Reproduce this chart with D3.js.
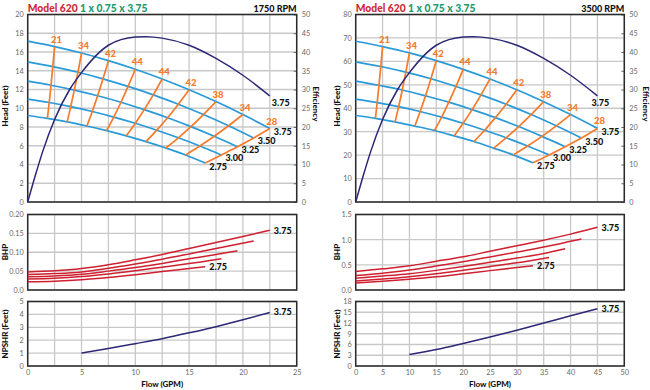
<!DOCTYPE html>
<html><head><meta charset="utf-8">
<script src="https://cdn.jsdelivr.net/npm/d3@7"></script>
<style>
body{margin:0;background:#fff;}
svg{display:block;font-family:Lato,"Open Sans",sans-serif;}
</style></head><body>
<svg id="c" width="650" height="390"></svg>
<script>
// ---------- DATA ----------
const diameters = ["3.75", "3.50", "3.25", "3.00", "2.75"];
const isoLabels = [21, 34, 42, 44, 44, 42, 38, 34, 28];
const rpmLabels = ["1750 RPM", "3500 RPM"];

// 1750 RPM head curves (flow GPM / head ft), one row per diameter
const headFlow1750 = [
  [0, 2.5, 5, 7.5, 10, 12.5, 15, 17.5, 20, 22.5],
  [0, 2.33, 4.67, 7.0, 9.33, 11.67, 14.0, 16.33, 18.67, 21.0],
  [0, 2.17, 4.33, 6.5, 8.67, 10.83, 13.0, 15.17, 17.33, 19.5],
  [0, 2, 4, 6, 8, 10, 12, 14, 16, 18],
  [0, 1.83, 3.67, 5.5, 7.33, 9.17, 11.0, 12.83, 14.67, 16.5]
];
const head1750 = [
  [17.16, 16.58, 15.89, 15.08, 14.16, 13.12, 11.97, 10.71, 9.33, 7.84],
  [14.95, 14.44, 13.84, 13.14, 12.33, 11.43, 10.43, 9.33, 8.13, 6.83],
  [12.89, 12.45, 11.94, 11.33, 10.64, 9.85, 8.99, 8.04, 7.01, 5.89],
  [10.98, 10.61, 10.17, 9.65, 9.06, 8.40, 7.66, 6.85, 5.97, 5.02],
  [9.23, 8.92, 8.55, 8.11, 7.62, 7.06, 6.44, 5.76, 5.02, 4.16]
];
// 3500 RPM head curves
const headFlow3500 = [
  [0, 5, 10, 15, 20, 25, 30, 35, 40, 45],
  [0, 4.67, 9.33, 14, 18.67, 23.33, 28, 32.67, 37.33, 42],
  [0, 4.33, 8.67, 13, 17.33, 21.67, 26, 30.33, 34.67, 39],
  [0, 4, 8, 12, 16, 20, 24, 28, 32, 36],
  [0, 3.67, 7.33, 11, 14.67, 18.33, 22, 25.67, 29.33, 33]
];
const head3500 = [
  [68.6, 66.3, 63.6, 60.3, 56.6, 52.5, 47.9, 42.8, 37.3, 31.4],
  [59.8, 57.8, 55.4, 52.6, 49.3, 45.7, 41.7, 37.3, 32.5, 27.3],
  [51.6, 49.8, 47.8, 45.3, 42.6, 39.4, 36.0, 32.2, 28.0, 23.6],
  [43.9, 42.4, 40.7, 38.6, 36.2, 33.6, 30.6, 27.4, 23.9, 20.1],
  [36.9, 35.7, 34.2, 32.4, 30.5, 28.2, 25.8, 23.0, 20.1, 16.7]
];

// Efficiency curve (3.75 impeller)
const effFlow1750 = [0, 0.7, 1.4, 2.5, 3.9, 5, 7.5, 10, 11, 12.5, 15, 17.5, 20, 22.5];
const effFlow3500 = [0, 1.4, 2.8, 5, 7.8, 10, 15, 20, 22, 25, 30, 35, 40, 45];
const effValues   = [0, 7, 13.5, 22, 30, 34.5, 41.8, 44, 44.1, 43.7, 41.8, 38.3, 33.8, 28.3];

// BHP curves
const bhpFlow1750 = [
  [0, 2.5, 5, 7.5, 10, 12.5, 15, 17.5, 20, 22.5],
  [0, 2.5, 5, 7.5, 10, 12.5, 15, 17.5, 21],
  [0, 2.5, 5, 7.5, 10, 12.5, 15, 17.5, 19.5],
  [0, 2.5, 5, 7.5, 10, 12.5, 15, 18],
  [0, 2.5, 5, 7.5, 10, 12.5, 15, 16.5]
];
const bhp1750 = [
  [0.048, 0.051, 0.057, 0.067, 0.080, 0.094, 0.110, 0.126, 0.142, 0.158],
  [0.041, 0.0435, 0.048, 0.0575, 0.069, 0.0815, 0.0955, 0.110, 0.130],
  [0.035, 0.037, 0.0415, 0.050, 0.0595, 0.0705, 0.0825, 0.094, 0.104],
  [0.029, 0.031, 0.0355, 0.0425, 0.051, 0.0605, 0.070, 0.083],
  [0.022, 0.0235, 0.027, 0.033, 0.0405, 0.049, 0.057, 0.062]
];
const bhpFlow3500 = [
  [0, 5, 10, 15, 20, 25, 30, 35, 40, 45],
  [0, 5, 10, 15, 20, 25, 30, 35, 40, 42],
  [0, 5, 10, 15, 20, 25, 30, 35, 39],
  [0, 5, 10, 15, 20, 25, 30, 36],
  [0, 5, 10, 15, 20, 25, 30, 33]
];
const bhp3500 = [
  [0.366, 0.42, 0.48, 0.57, 0.66, 0.77, 0.88, 0.99, 1.11, 1.246],
  [0.286, 0.335, 0.395, 0.475, 0.562, 0.657, 0.754, 0.854, 0.967, 1.013],
  [0.234, 0.277, 0.325, 0.39, 0.465, 0.55, 0.635, 0.725, 0.82],
  [0.18, 0.218, 0.265, 0.323, 0.392, 0.465, 0.54, 0.647],
  [0.14, 0.172, 0.213, 0.262, 0.322, 0.385, 0.445, 0.48]
];

// NPSHR (3.75)
const npshFlow1750 = [5, 7.5, 10, 12.5, 15, 17.5, 20, 22.5];
const npsh1750     = [1.0, 1.35, 1.73, 2.12, 2.57, 3.05, 3.58, 4.15];
const npshFlow3500 = [10, 15, 20, 25, 30, 35, 40, 45];
const npsh3500     = [3.2, 4.6, 6.3, 8.1, 10.0, 12.0, 14.0, 16.0];

// Ticks
const xGrid1750 = [0, 2.5, 5, 7.5, 10, 12.5, 15, 17.5, 20, 22.5, 25];
const xTicks1750 = [0, 5, 10, 15, 20, 25];
const xGrid3500 = [0, 5, 10, 15, 20, 25, 30, 35, 40, 45, 50];
const xTicks3500 = [0, 5, 10, 15, 20, 25, 30, 35, 40, 45, 50];
const headTicks1750 = [0, 2, 4, 6, 8, 10, 12, 14, 16, 18, 20];
const headTicks3500 = [0, 10, 20, 30, 40, 50, 60, 70, 80];
const effTicks = [0, 5, 10, 15, 20, 25, 30, 35, 40, 45, 50];
const bhpTicks1750 = [0, 0.05, 0.10, 0.15, 0.20];
const bhpTickLabels1750 = ["0.0", "0.05", "0.10", "0.15", "0.20"];
const bhpTicks3500 = [0, 0.5, 1.0, 1.5];
const bhpTickLabels3500 = ["0.0", "0.5", "1.0", "1.5"];
const npshTicks1750 = [0, 1, 2, 3, 4, 5];
const npshTicks3500 = [0, 3, 6, 9, 12, 15, 18];

// ---------- DRAW ----------
const C = {
  frame: "#2a2a2a", grid: "#c8c8c8", tick: "#6a6a6a",
  blue: "#2a9ad8", orange: "#f57a2a", navy: "#2b2875", red: "#cf2030",
  title: "#cf2a36", green: "#1e9a6e"
};
const svg = d3.select("#c");

function drawChart(cfg) {
  const g = svg.append("g");
  const x = d3.scaleLinear().domain([0, cfg.xMax]).range([cfg.left, cfg.right]);
  const yH = d3.scaleLinear().domain([0, cfg.headMax]).range([202, 14.5]);
  const yE = d3.scaleLinear().domain([0, 50]).range([202, 14.5]);
  const yB = d3.scaleLinear().domain([0, cfg.bhpMax]).range([290, 214.5]);
  const yN = d3.scaleLinear().domain([0, cfg.npshMax]).range([366, 301.5]);

  const panels = [
    {y: yH, ticks: cfg.headTicks, labels: null},
    {y: yB, ticks: cfg.bhpTicks, labels: cfg.bhpLabels},
    {y: yN, ticks: cfg.npshTicks, labels: null}
  ];
  panels.forEach(p => {
    const [b, t] = p.y.range();
    g.append("g").selectAll("line").data(cfg.xGrid).join("line")
      .attr("x1", d => x(d)).attr("x2", d => x(d)).attr("y1", t).attr("y2", b)
      .attr("stroke", C.grid).attr("stroke-width", 1.3);
    g.append("g").selectAll("line").data(p.ticks).join("line")
      .attr("x1", cfg.left).attr("x2", cfg.right).attr("y1", d => p.y(d)).attr("y2", d => p.y(d))
      .attr("stroke", C.grid).attr("stroke-width", 1.3);
    const ax = d3.axisLeft(p.y).tickValues(p.ticks).tickSize(0).tickPadding(4)
      .tickFormat((d, i) => p.labels ? p.labels[i] : d);
    const axg = g.append("g").attr("transform", `translate(${cfg.left},0)`).call(ax);
    axg.select(".domain").remove();
    axg.selectAll("text").attr("fill", C.tick).style("font-size", "7.3px").style("font-family", "Lato, sans-serif");
  });

  // efficiency axis (right)
  const ea = d3.axisRight(yE).tickValues(effTicks).tickSize(-3).tickPadding(5);
  const eag = g.append("g").attr("transform", `translate(${cfg.right},0)`).call(ea);
  eag.select(".domain").remove();
  eag.selectAll("line").attr("stroke", C.tick);
  eag.selectAll("text").attr("fill", C.tick).style("font-size", "7.3px").style("font-family", "Lato, sans-serif");

  // x axis (bottom)
  const xa = d3.axisBottom(x).tickValues(cfg.xTicks).tickSize(0).tickPadding(4);
  const xag = g.append("g").attr("transform", `translate(0,366)`).call(xa);
  xag.select(".domain").remove();
  xag.selectAll("text").attr("fill", C.tick).style("font-size", "7.3px").style("font-family", "Lato, sans-serif");

  // frames
  [[14.5, 202], [214.5, 290], [301.5, 366]].forEach(([t, b]) => {
    g.append("rect").attr("x", cfg.left).attr("y", t).attr("width", cfg.right - cfg.left).attr("height", b - t)
      .attr("fill", "none").attr("stroke", C.frame).attr("stroke-width", 1.5);
  });

  // head curves
  const lineH = d3.line().x(d => x(d[0])).y(d => yH(d[1])).curve(d3.curveMonotoneX);
  const headSeries = cfg.headFlow.map((fl, i) => fl.map((q, k) => [q, cfg.head[i][k]]));
  g.append("g").selectAll("path").data(headSeries).join("path")
    .attr("d", lineH).attr("fill", "none").attr("stroke", C.blue).attr("stroke-width", 1.7);

  // iso-efficiency lines
  const isoSeries = isoLabels.map((lab, k) => headSeries.map(s => s[k + 1]));
  const lineIso = d3.line().x(d => x(d[0])).y(d => yH(d[1])).curve(d3.curveCatmullRom);
  g.append("g").selectAll("path").data(isoSeries).join("path")
    .attr("d", lineIso).attr("fill", "none").attr("stroke", C.orange).attr("stroke-width", 1.7);
  g.append("g").selectAll("text").data(isoSeries).join("text")
    .attr("x", d => x(d[0][0]) + 2).attr("y", d => yH(d[0][1]) - 4)
    .attr("text-anchor", "middle").attr("fill", C.orange)
    .style("font-size", "9.5px").style("font-weight", "900")
    .text((d, k) => isoLabels[k]);

  // efficiency curve
  const lineE = d3.line().x(d => x(d[0])).y(d => yE(d[1])).curve(d3.curveMonotoneX);
  const effSeries = cfg.effFlow.map((q, i) => [q, effValues[i]]);
  g.append("path").datum(effSeries).attr("d", lineE).attr("fill", "none")
    .attr("stroke", C.navy).attr("stroke-width", 1.5);
  const eLast = effSeries[effSeries.length - 1];
  g.append("text").attr("x", x(eLast[0]) + cfg.effLabDx).attr("y", yE(eLast[1]) + 10.5)
    .style("font-size", "9px").style("font-weight", "900").attr("fill", "#111").text(diameters[0]);

  // diameter labels on head curves
  g.append("g").selectAll("text").data(headSeries).join("text")
    .attr("x", d => x(d[d.length - 1][0]) + 4).attr("y", d => yH(d[d.length - 1][1]) + 6.5)
    .style("font-size", "9px").style("font-weight", "900").attr("fill", "#111")
    .text((d, i) => diameters[i]);

  // BHP curves
  const lineB = d3.line().x(d => x(d[0])).y(d => yB(d[1])).curve(d3.curveMonotoneX);
  const bhpSeries = cfg.bhpFlow.map((fl, i) => fl.map((q, k) => [q, cfg.bhp[i][k]]));
  g.append("g").selectAll("path").data(bhpSeries).join("path")
    .attr("d", lineB).attr("fill", "none").attr("stroke", C.red).attr("stroke-width", 1.5);
  [0, 4].forEach(i => {
    const s = bhpSeries[i], p = s[s.length - 1];
    g.append("text").attr("x", x(p[0]) + 4).attr("y", yB(p[1]) + 3.5)
      .style("font-size", "9px").style("font-weight", "900").attr("fill", "#111").text(diameters[i]);
  });

  // NPSHR
  const lineN = d3.line().x(d => x(d[0])).y(d => yN(d[1])).curve(d3.curveMonotoneX);
  const npshSeries = cfg.npshFlow.map((q, i) => [q, cfg.npsh[i]]);
  g.append("path").datum(npshSeries).attr("d", lineN).attr("fill", "none")
    .attr("stroke", C.navy).attr("stroke-width", 1.5);
  const nLast = npshSeries[npshSeries.length - 1];
  g.append("text").attr("x", x(nLast[0]) + 4).attr("y", yN(nLast[1]) + 3)
    .style("font-size", "9px").style("font-weight", "900").attr("fill", "#111").text(diameters[0]);

  // titles
  const t = g.append("text").attr("x", cfg.left).attr("y", 11.5)
    .style("font-size", "10.3px").style("font-weight", "900");
  t.append("tspan").attr("fill", C.title).text("Model 620");
  t.append("tspan").attr("fill", C.green).text(" 1 x 0.75 x 3.75");
  g.append("text").attr("x", cfg.right).attr("y", 11.5).attr("text-anchor", "end")
    .style("font-size", "9px").style("font-weight", "900").attr("fill", "#111").text(cfg.rpm);

  const rot = (txt, cx, cy, ang) => g.append("text")
    .attr("transform", `translate(${cx},${cy}) rotate(${ang})`)
    .attr("text-anchor", "middle").attr("dominant-baseline", "central")
    .style("font-size", "8px").style("font-weight", "900").attr("fill", "#111").text(txt);
  rot("Head (Feet)", cfg.ytx, 106, -90);
  rot("BHP", cfg.ytx, 252, -90);
  rot("NPSHR (Feet)", cfg.ytx, 334, -90);
  rot("Efficiency", cfg.right + cfg.etx, 104, 90);
  g.append("text").attr("x", (cfg.left + cfg.right) / 2).attr("y", 387)
    .attr("text-anchor", "middle").style("font-size", "8px").style("font-weight", "900")
    .attr("fill", "#111").text("Flow (GPM)");
}

drawChart({
  left: 27.7, right: 296.7, xMax: 25, headMax: 20, bhpMax: 0.20, npshMax: 5,
  xGrid: xGrid1750, xTicks: xTicks1750, headTicks: headTicks1750,
  bhpTicks: bhpTicks1750, bhpLabels: bhpTickLabels1750, npshTicks: npshTicks1750,
  headFlow: headFlow1750, head: head1750, effFlow: effFlow1750,
  bhpFlow: bhpFlow1750, bhp: bhp1750, npshFlow: npshFlow1750, npsh: npsh1750,
  rpm: rpmLabels[0], ytx: 5, etx: 19.5, effLabDx: 2
});
drawChart({
  left: 355.7, right: 624.3, xMax: 50, headMax: 80, bhpMax: 1.5, npshMax: 18,
  xGrid: xGrid3500, xTicks: xTicks3500, headTicks: headTicks3500,
  bhpTicks: bhpTicks3500, bhpLabels: bhpTickLabels3500, npshTicks: npshTicks3500,
  headFlow: headFlow3500, head: head3500, effFlow: effFlow3500,
  bhpFlow: bhpFlow3500, bhp: bhp3500, npshFlow: npshFlow3500, npsh: npsh3500,
  rpm: rpmLabels[1], ytx: 337, etx: 21.5, effLabDx: -6
});
</script>
</body></html>
